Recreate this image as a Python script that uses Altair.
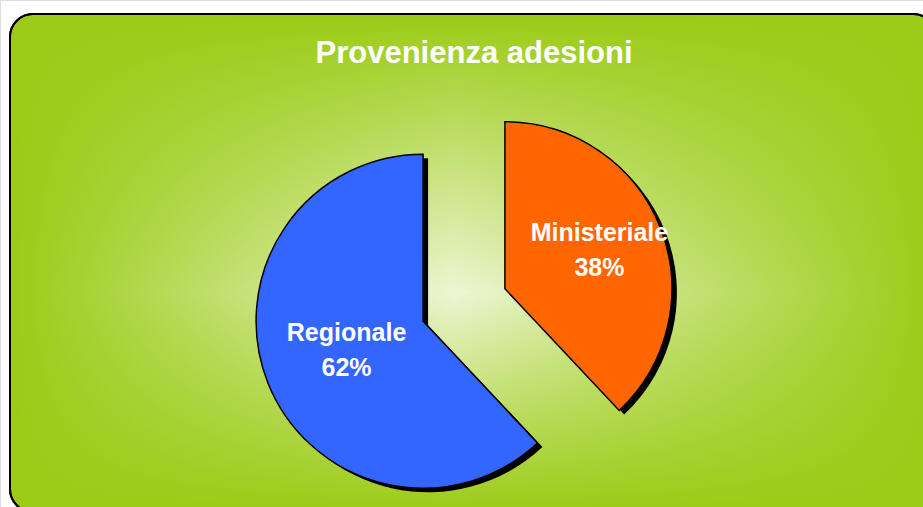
import altair as alt
import pandas as pd

# ---- data ----
categories = ["Ministeriale", "Regionale"]
values = [38, 62]
slice_colors = ["#FF6600", "#3366FF"]
title_text = "Provenienza adesioni"

# ---- layout / style ----
W, H = 923, 507
CX, CY = 464, 305          # centre of the (unexploded) pie
R = 167                     # pie radius
EXPLODE = 44                # explosion distance
LABEL_R = 92                # label distance from slice apex
GREEN = "#9BCB16"
LIGHT = "#EDF6D4"
FONT = "Liberation Sans"

df = pd.DataFrame({"category": categories, "value": values,
                   "order": list(range(len(categories)))})

pie = (
    alt.Chart(df)
    .transform_joinaggregate(total="sum(value)")
    .transform_window(cum="sum(value)", sort=[alt.SortField("order")], frame=[None, 0])
    .transform_calculate(
        f0="(datum.cum - datum.value) / datum.total",
        f1="datum.cum / datum.total",
        mid="(datum.cum - datum.value / 2) / datum.total * 2 * PI",
        label="datum.category + '|' + round(datum.value / datum.total * 100) + '%'",
    )
    .transform_calculate(
        px=f"{CX} + {EXPLODE} * sin(datum.mid)",
        py=f"{CY} - {EXPLODE} * cos(datum.mid)",
    )
    .transform_calculate(
        lx=f"datum.px + {LABEL_R} * sin(datum.mid)",
        ly=f"datum.py - {LABEL_R} * cos(datum.mid)",
    )
)

theta_scale = alt.Scale(domain=[0, 1], range=[0, 6.283185307179586])

shadow = pie.mark_arc(radius=R, color="black", xOffset=5, yOffset=4).encode(
    theta=alt.Theta("f0:Q", scale=theta_scale),
    theta2="f1:Q",
    x=alt.X("px:Q", scale=None),
    y=alt.Y("py:Q", scale=None),
)

slices = pie.mark_arc(radius=R, stroke="black", strokeWidth=1.5,
                      strokeJoin="miter", opacity=1).encode(
    theta=alt.Theta("f0:Q", scale=theta_scale),
    theta2="f1:Q",
    x=alt.X("px:Q", scale=None),
    y=alt.Y("py:Q", scale=None),
    color=alt.Color("category:N",
                    scale=alt.Scale(domain=categories, range=slice_colors),
                    legend=None),
)

labels = pie.mark_text(font=FONT, fontSize=25, fontWeight="bold", color="white",
                       lineBreak="|", lineHeight=35, align="center",
                       baseline="middle", dx=9, dy=-22).encode(
    x=alt.X("lx:Q", scale=None),
    y=alt.Y("ly:Q", scale=None),
    text="label:N",
)

bg_df = pd.DataFrame({"k": [0]})
frame_h = alt.Chart(bg_df).mark_rect(
    cornerRadius=23, stroke="black", strokeWidth=2,
    fill=alt.Gradient(gradient="linear", x1=0, y1=0, x2=1, y2=0,
                      stops=[alt.GradientStop(color=GREEN, offset=0),
                             alt.GradientStop(color=LIGHT, offset=0.48),
                             alt.GradientStop(color=GREEN, offset=1)]),
).encode(x=alt.value(10), x2=alt.value(936), y=alt.value(14), y2=alt.value(512))

frame_v = alt.Chart(bg_df).mark_rect(
    cornerRadius=23,
    fill=alt.Gradient(gradient="linear", x1=0, y1=0, x2=0, y2=1,
                      stops=[alt.GradientStop(color="rgba(155,203,22,1)", offset=0),
                             alt.GradientStop(color="rgba(155,203,22,0)", offset=0.56),
                             alt.GradientStop(color="rgba(155,203,22,1)", offset=1)]),
).encode(x=alt.value(11), x2=alt.value(935), y=alt.value(15), y2=alt.value(511))

frame_line = alt.Chart(bg_df).mark_rect(
    cornerRadius=23, stroke="black", strokeWidth=2, fillOpacity=0,
).encode(x=alt.value(10), x2=alt.value(936), y=alt.value(14), y2=alt.value(512))

title = alt.Chart(pd.DataFrame({"t": [title_text]})).mark_text(
    font=FONT, fontSize=31, fontWeight="bold", color="white",
    align="center", baseline="alphabetic",
).encode(x=alt.value(474), y=alt.value(63), text="t:N")

chart = (
    alt.layer(frame_h, frame_v, frame_line, shadow, slices, labels, title)
    .properties(width=W, height=H, padding=0,
                autosize=alt.AutoSizeParams(type="none"))
    .configure_view(stroke=None)
    .configure(background="white")
)

chart.save("out.html", embed_options={"renderer": "svg", "actions": False})
